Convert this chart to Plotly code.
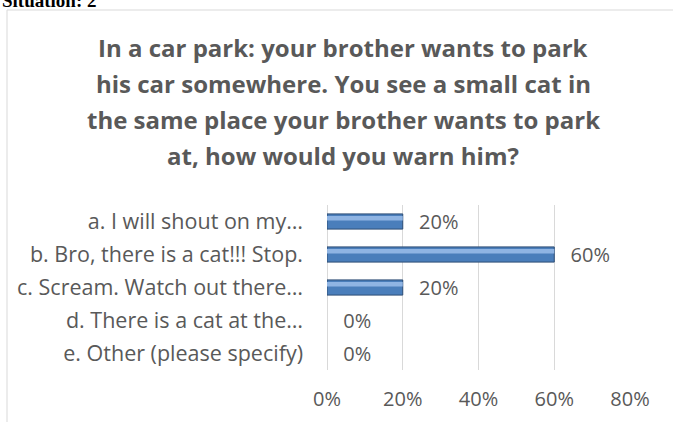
import plotly.graph_objects as go

# Survey answers and their shares
categories = [
    "a. I will shout on my…",
    "b. Bro, there is a cat!!! Stop.",
    "c. Scream. Watch out there…",
    "d. There is a cat at the…",
    "e. Other (please specify)",
]
shares = [0.20, 0.60, 0.20, 0.0, 0.0]
share_labels = [f"\u2002\u2009{round(v * 100)}%" for v in shares]
tick_values = [0, 0.2, 0.4, 0.6, 0.8]
tick_labels = ["0%", "20%", "40%", "60%", "80%"]
title_lines = [
    "In a car park: your brother wants to park",
    "his car somewhere. You see a small cat in",
    "the same place your brother wants to park",
    "at, how would you warn him?",
]

W, H = 673, 422
FONT = "'Open Sans', sans-serif"
GREY = "#595959"

fig = go.Figure()

# Main bars (no outline on empty bars)
fig.add_trace(go.Bar(
    y=categories, x=shares, orientation="h",
    width=0.46, offset=-0.23,
    marker=dict(color="#4A7EBB",
                line=dict(color="#2C4D75", width=[1 if v > 0 else 0 for v in shares])),
    text=share_labels, textposition="outside", cliponaxis=False,
    constraintext="none",
    textfont=dict(family=FONT, size=20, color=GREY),
    hoverinfo="skip",
))
# Highlight strip for the bevelled look
fig.add_trace(go.Bar(
    y=categories, x=shares, orientation="h",
    width=0.14, offset=-0.17,
    marker=dict(color="#8FB4E3", line=dict(width=0)),
    hoverinfo="skip",
))

def py(p):
    return 1 - p / H

def px(p):
    return p / W

annotations = [
    dict(text="<b>Situation: 2</b>", x=px(0), y=py(13), xref="paper", yref="paper",
         xanchor="left", yanchor="bottom", showarrow=False,
         font=dict(family="Liberation Serif, serif", size=19, color="#000000")),
]
for i, line in enumerate(title_lines):
    annotations.append(dict(
        text=f"<b>{line}</b>", x=px(343), y=py(48 + i * 35.7),
        xref="paper", yref="paper", xanchor="center", yanchor="middle",
        showarrow=False, font=dict(family=FONT, size=24, color=GREY)))

fig.update_layout(
    width=W, height=H,
    margin=dict(l=0, r=0, t=0, b=0),
    paper_bgcolor="white", plot_bgcolor="white",
    showlegend=False, barmode="overlay",
    annotations=annotations,
    shapes=[
        dict(type="line", xref="paper", yref="paper", x0=px(7), x1=px(W + 5),
             y0=py(10), y1=py(10), line=dict(color="#D9D9D9", width=1)),
        dict(type="line", xref="paper", yref="paper", x0=px(7), x1=px(7),
             y0=py(10), y1=py(H + 5), line=dict(color="#D9D9D9", width=1)),
    ],
    xaxis=dict(
        domain=[px(327), px(630)], range=[0, 0.8],
        tickvals=tick_values, ticktext=tick_labels,
        showgrid=True, gridcolor="#D9D9D9", gridwidth=1,
        zeroline=True, zerolinecolor="#D9D9D9", zerolinewidth=1,
        showline=False, ticks="",
        ticklabelstandoff=15, automargin=False,
        tickfont=dict(family=FONT, size=20, color=GREY),
    ),
    yaxis=dict(
        domain=[py(370), py(205)], autorange="reversed",
        showgrid=False, zeroline=False, showline=False, ticks="",
        ticklabelstandoff=23, automargin=False,
        tickfont=dict(family=FONT, size=21.5, color=GREY),
    ),
)

fig.write_html("out.html")
